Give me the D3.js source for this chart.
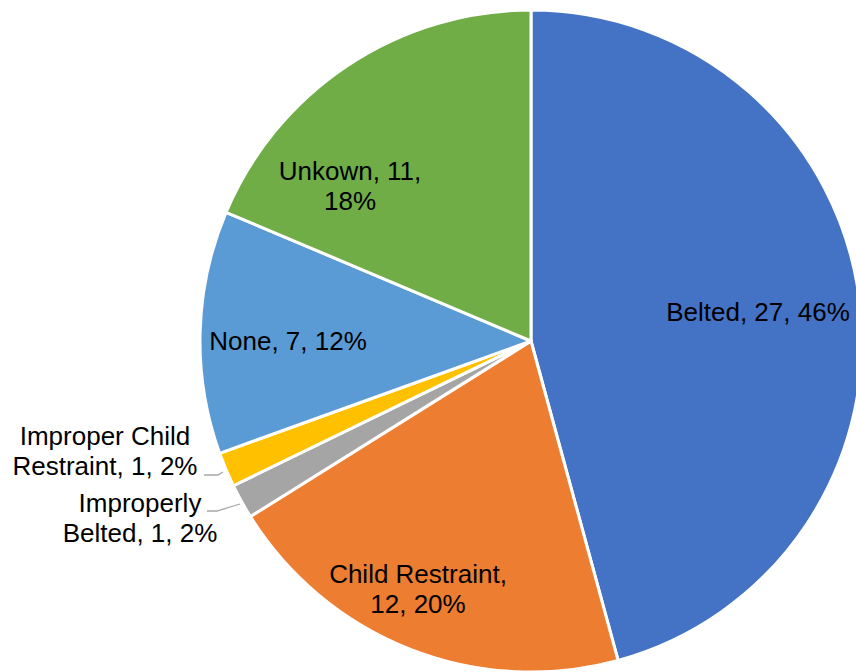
<!DOCTYPE html>
<html>
<head>
<meta charset="utf-8">
<script src="https://cdn.jsdelivr.net/npm/d3@7"></script>
<style>
  html, body { margin: 0; padding: 0; background: #fff; overflow: hidden; }
  svg { display: block; }
  text { font-family: "Liberation Sans", Arial, sans-serif; fill: #000; }
</style>
</head>
<body>
<script>
const categories = ["Belted", "Child Restraint", "Improperly Belted", "Improper Child Restraint", "None", "Unkown"];
const values = [27, 12, 1, 1, 7, 11];
const percents = ["46%", "20%", "2%", "2%", "12%", "18%"];
const colors = ["#4472C4", "#ED7D31", "#A5A5A5", "#FFC000", "#5B9BD5", "#70AD47"];

// label lines (text), placement (layout only)
const labelLines = [
  ["Belted, 27, 46%"],
  ["Child Restraint,", "12, 20%"],
  ["Improperly", "Belted, 1, 2%"],
  ["Improper Child", "Restraint, 1, 2%"],
  ["None, 7, 12%"],
  ["Unkown, 11,", "18%"]
];
const labelPos = [
  {x: 758, y: 321},
  {x: 418, y: 583},
  {x: 140, y: 512},
  {x: 105, y: 445},
  {x: 288, y: 350},
  {x: 350, y: 180}
];
const leaders = {
  2: [[207, 511], [217, 511], [240, 504]],
  3: [[204, 475], [218, 475], [223, 472]]
};

const W = 856, H = 672;
const cx = 531, cy = 341, R = 331;

const svg = d3.select("body").append("svg").attr("width", W).attr("height", H);
const g = svg.append("g").attr("transform", `translate(${cx},${cy})`);

const pie = d3.pie().sort(null).value(d => d)(values);
const arc = d3.arc().innerRadius(0).outerRadius(R);

g.selectAll("path.slice").data(pie).enter().append("path")
  .attr("class", "slice")
  .attr("d", arc)
  .attr("fill", (d, i) => colors[i])
  .attr("stroke", "#fff")
  .attr("stroke-width", 3)
  .attr("stroke-linejoin", "round");

const line = d3.line();
Object.keys(leaders).forEach(k => {
  svg.append("path").attr("d", line(leaders[k]))
    .attr("fill", "none").attr("stroke", "#A6A6A6").attr("stroke-width", 1.3);
});

labelLines.forEach((lines, i) => {
  const t = svg.append("text")
    .attr("x", labelPos[i].x).attr("y", labelPos[i].y)
    .attr("text-anchor", "middle")
    .style("font-size", "26px");
  lines.forEach((s, j) => {
    t.append("tspan").attr("x", labelPos[i].x).attr("dy", j === 0 ? 0 : 30).text(s);
  });
});
</script>
</body>
</html>
